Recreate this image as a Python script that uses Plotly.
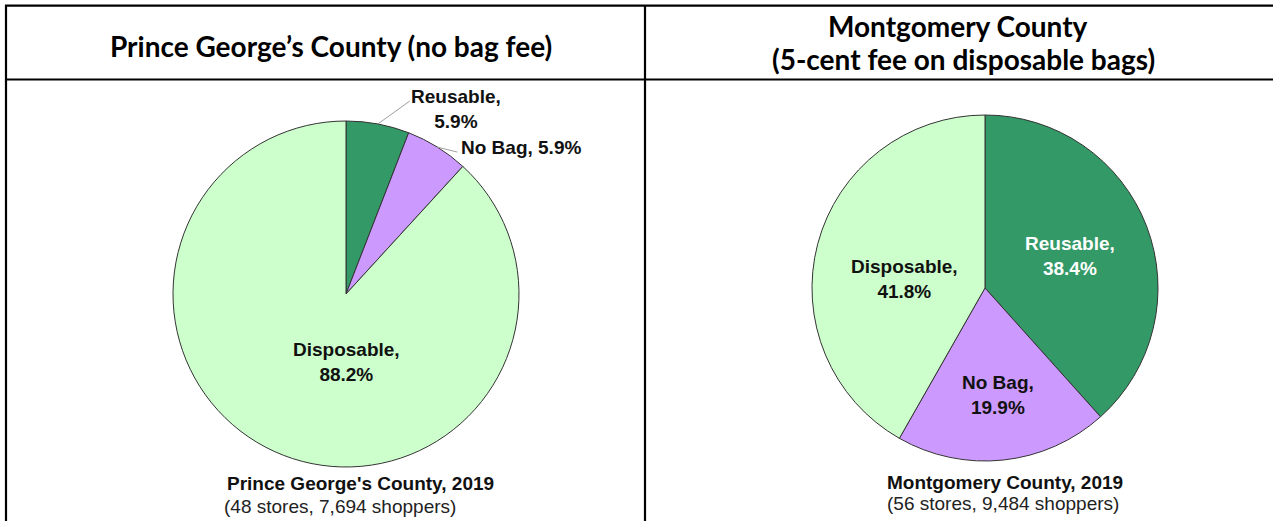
import math
import plotly.graph_objects as go

W, H = 1273, 521

# ---- data ----
categories = ["Reusable", "No Bag", "Disposable"]
pg_values = [5.9, 5.9, 88.2]
mc_values = [38.4, 19.9, 41.8]
colors = ["#339966", "#cc99ff", "#ccffcc"]

header_left = "Prince George’s County (no bag fee)"
header_right = ["Montgomery County", "(5-cent fee on disposable bags)"]
pg_caption = ["Prince George's County, 2019", "(48 stores, 7,694 shoppers)"]
mc_caption = ["Montgomery County, 2019", "(56 stores, 9,484 shoppers)"]


def px(x):
    return x / W


def py(y):
    return 1 - y / H


PIE_R = 173
pg_center = (346, 294)
mc_center = (985, 288)


def domain(c, r):
    return dict(x=[px(c[0] - r), px(c[0] + r)], y=[py(c[1] + r), py(c[1] - r)])


def edge_point(values, i, c, r):
    tot = sum(values)
    cum = sum(values[:i]) + values[i] / 2
    th = math.radians(360 * cum / tot)
    return c[0] + r * math.sin(th), c[1] - r * math.cos(th)


fig = go.Figure()
for vals, c in [(pg_values, pg_center), (mc_values, mc_center)]:
    fig.add_trace(go.Pie(
        labels=categories, values=vals, sort=False, direction="clockwise",
        rotation=0, textinfo="none", hoverinfo="label+percent",
        marker=dict(colors=colors, line=dict(color="#333333", width=1)),
        domain=domain(c, PIE_R), showlegend=False,
    ))

ARIAL = "Liberation Sans, Arial, sans-serif"
LBL = dict(family=ARIAL, size=19, color="#111111", weight="bold")
LBL_W = dict(LBL, color="#ffffff")
CAP_B = dict(family=ARIAL, size=19, color="#111111", weight="bold")
CAP_R = dict(family=ARIAL, size=19, color="#222222")
HDR = dict(family="Lato, Calibri, sans-serif", size=28, color="#000000", weight="bold")

ann = []


def add_text(text, x, y, font, xanchor="center"):
    ann.append(dict(text=text, x=px(x), y=py(y), xref="paper", yref="paper",
                    showarrow=False, font=font, xanchor=xanchor, yanchor="middle",
                    align="center"))


def two(cat, v):
    return f"{cat},<br>{v}%"


# Prince George's labels
add_text(two(categories[0], pg_values[0]), 456, 109, LBL)
add_text(f"{categories[1]}, {pg_values[1]}%", 459, 147, LBL, xanchor="left")
add_text(two(categories[2], pg_values[2]), 346, 362, LBL)
# Montgomery labels
add_text(two(categories[0], mc_values[0]), 1070, 256, LBL_W)
add_text(two(categories[1], mc_values[1]), 998, 395, LBL)
add_text(two(categories[2], mc_values[2]), 904, 279, LBL)

# captions
add_text(pg_caption[0], 225, 483, CAP_B, xanchor="left")
add_text(pg_caption[1], 222, 506, CAP_R, xanchor="left")
add_text(mc_caption[0], 1005, 482, CAP_B)
add_text(mc_caption[1], 1003, 503, CAP_R)

# headers
add_text(header_left, 331, 46, HDR)
add_text(header_right[0], 958, 26, HDR)
add_text(header_right[1], 963, 59, HDR)

shapes = []


def line(x0, y0, x1, y1, color="#000000", width=2.2):
    shapes.append(dict(type="line", xref="paper", yref="paper",
                       x0=px(x0), y0=py(y0), x1=px(x1), y1=py(y1),
                       line=dict(color=color, width=width)))


# table borders
line(5, 5.7, W + 2, 5.7)
line(6, 5, 6, H + 2)
line(5, 79.5, W + 2, 79.5)
line(645, 5, 645, H + 2)

# leader lines (Prince George's small slices)
ex, ey = edge_point(pg_values, 0, pg_center, PIE_R)
line(ex, ey, ex + 32, ey - 23, color="#a0a0a0", width=1)
ex, ey = edge_point(pg_values, 1, pg_center, PIE_R)
line(ex, ey, ex + 20, ey + 5, color="#a0a0a0", width=1)

fig.update_layout(
    width=W, height=H, margin=dict(l=0, r=0, t=0, b=0),
    paper_bgcolor="white", plot_bgcolor="white",
    annotations=ann, shapes=shapes, showlegend=False,
)

fig.write_html(
    "out.html",
    config={"displayModeBar": False},
    post_script="document.body.style.margin='0px';document.body.style.overflow='hidden';",
)
